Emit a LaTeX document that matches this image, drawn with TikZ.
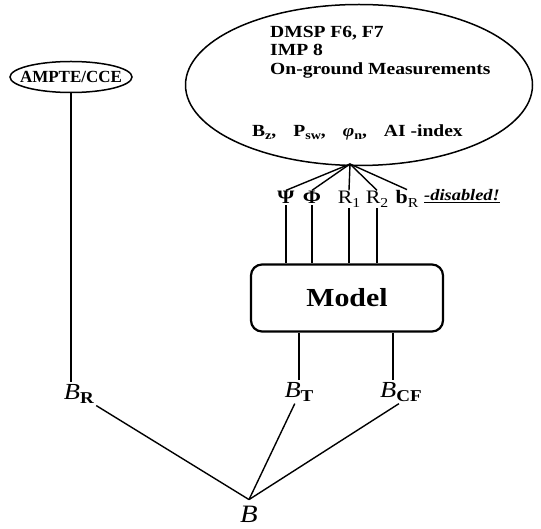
\documentclass[tikz,border=0pt]{standalone}
\usepackage{fontspec}
\setmainfont{Liberation Serif}[FakeStretch=1.15]
\newfontfamily\narrowserif{Liberation Serif}
\usepackage{graphicx}
\usetikzlibrary{shapes.geometric}

% lowered, smaller index
\newcommand\lo[1]{\raisebox{-.35ex}{\scalebox{.72}{#1}}}

\begin{document}
\begin{tikzpicture}[x=1pt,y=-1pt,
  oval/.style={draw,ellipse,line width=1.5pt,inner sep=0pt},
  lbl/.style={font=\fontsize{17}{18.5}\selectfont\bfseries,inner sep=0pt},
  quant/.style={font=\fontsize{19}{20}\selectfont,inner sep=1pt},
  blab/.style={font=\fontsize{23}{25}\selectfont,inner sep=2pt},
  wire/.style={line width=1.4pt}
]
\useasboundingbox (0,0) rectangle (541,529);

% data sources
\node[oval,minimum width=347pt,minimum height=161pt] (meas) at (359,85) {};
\node[lbl,anchor=north west,align=left] (srcs) at (270,26) {DMSP F6, F7\\IMP 8\\On-ground Measurements};
\node[lbl,anchor=base west] (inputs) at (252,137) {B\lo{z},\quad P\lo{sw},\quad{\itshape φ}\lo{n},\quad AI -index};
\node[oval,minimum width=122pt,minimum height=31pt,
  label={[lbl,font=\narrowserif\fontsize{17}{18}\selectfont\bfseries]center:AMPTE/CCE}] (ampte) at (71,77) {};

% model parameters
\coordinate (fan) at (350,164);
\node[quant,anchor=base] (psi) at (286,204) {\textbf{Ψ}};
\node[quant,anchor=base] (phi) at (312,204) {\textbf{Φ}};
\node[quant,anchor=base] (r1) at (349,204) {R\lo{1}};
\node[quant,anchor=base] (r2) at (377,204) {R\lo{2}};
\node[quant,anchor=base] (brad) at (407,204) {\textbf{b}\lo{R}};
\node[anchor=base west,font=\fontsize{16}{18}\selectfont\bfseries\itshape,inner sep=0pt] (off) at (424,201) {\underline{-disabled!}};
\foreach \q in {psi,phi,r1,r2,brad}
  \draw[wire] (fan) -- (\q.north);

\node[draw,line width=2.2pt,rounded corners=11pt,minimum width=192pt,minimum height=67pt,
  font=\fontsize{26}{28}\selectfont\bfseries] (model) at (347,298) {Model};
\foreach \q in {psi,phi,r1,r2}
  \draw[wire] (\q.south) -- (\q.south |- model.north);

% field parts
\node[blab] (bRl) at (79,394) {\textit{B}\lo{\textbf{R}}};
\node[blab] (bT) at (299,392) {\textit{B}\lo{\textbf{T}}};
\node[blab] (bCF) at (401,392) {\textit{B}\lo{\textbf{CF}}};
\node[font=\fontsize{25}{28}\selectfont\itshape,inner xsep=1pt,inner ysep=6pt] (bsum) at (249,514) {B};
\path ([xshift=-8pt]bCF.north) coordinate (cftop);

\draw[wire] (ampte.south) -- (ampte.south |- bRl.north);
\draw[wire] (bT.north |- model.south) -- (bT.north);
\draw[wire] (cftop |- model.south) -- (cftop);
\draw[wire] (bRl.south east) -- (bsum.north);
\draw[wire] (bT.-110) -- (bsum.north);
\draw[wire] (bCF.-100) -- (bsum.north);
\end{tikzpicture}
\end{document}
